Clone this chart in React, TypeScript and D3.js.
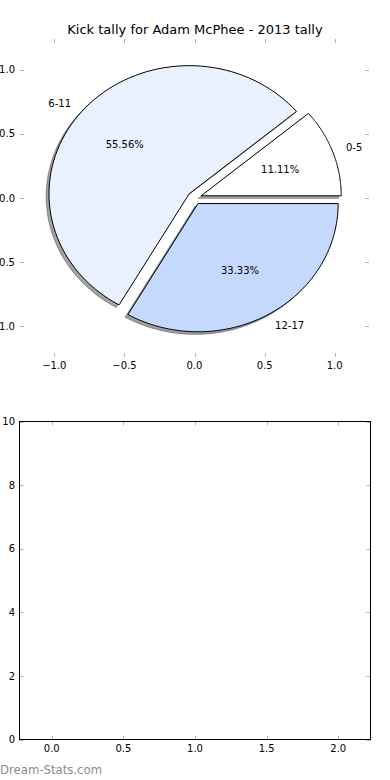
import React from 'react';
import * as d3 from 'd3';

// kick tally, 2013
const categories = ['0-5', '6-11', '12-17'];
const kicks = [1, 5, 3];
const sliceColors = ['#ffffff', '#e9f0fe', '#c5d8fe'];
const pieTicks = [-1.0, -0.5, 0.0, 0.5, 1.0];
const emptyXTicks = [0.0, 0.5, 1.0, 1.5, 2.0];
const emptyYTicks = [0, 2, 4, 6, 8, 10];

const W = 390;
const H = 780;
const explode = 0.05;
const font = 'DejaVu Sans, sans-serif';
const tickColor = '#b4b4b4';
const fmt1 = (v: number) => d3.format('.1f')(v).replace('-', '\u2212');
const pct = d3.format('.2%');

// top (pie) axes
const px = d3.scaleLinear().domain([-1.245, 1.245]).range([20, 369]);
const py = d3.scaleLinear().domain([-1.24, 1.24]).range([357, 39]);

// bottom (empty) axes
const bx = d3.scaleLinear().domain([-0.225, 2.225]).range([19.5, 370.5]);
const by = d3.scaleLinear().domain([0, 10]).range([739.5, 421.5]);

const line = d3.line<[number, number]>()
  .x(d => px(d[0]))
  .y(d => py(d[1]));

const wedge = (a0: number, a1: number, cx: number, cy: number) => {
  const n = 80;
  const pts: [number, number][] = [[cx, cy]];
  d3.range(n + 1).forEach(i => {
    const a = a0 + (a1 - a0) * i / n;
    pts.push([cx + Math.cos(a), cy + Math.sin(a)]);
  });
  return line(pts) + 'Z';
};

const shade = (c: string) => {
  const rgb = d3.rgb(c);
  return `rgba(${rgb.r * 0.3},${rgb.g * 0.3},${rgb.b * 0.3},0.5)`;
};

const App = () => {
  const total = d3.sum(kicks);
  const arcs = d3.pie<number>().sort(null).startAngle(0).endAngle(2 * Math.PI)(kicks);

  const slices = arcs.map((a, i) => {
    const mid = (a.startAngle + a.endAngle) / 2;
    const cx = explode * Math.cos(mid);
    const cy = explode * Math.sin(mid);
    return {
      i,
      a0: a.startAngle,
      a1: a.endAngle,
      cx,
      cy,
      lx: cx + 1.1 * Math.cos(mid),
      ly: cy + 1.1 * Math.sin(mid),
      tx: cx + 0.6 * Math.cos(mid),
      ty: cy + 0.6 * Math.sin(mid),
      value: kicks[i] / total,
    };
  });

  return (
    <svg width={W} height={H} style={{ position: 'absolute', left: 0, top: 0, background: '#fff' }}
      fontFamily={font}>
      <rect width={W} height={H} fill="#fff" />
      <text x={195} y={34} fontSize={13} textAnchor="middle">
        Kick tally for Adam McPhee - 2013 tally
      </text>

      {/* pie ticks */}
      <g stroke={tickColor}>
        {pieTicks.map(t => (
          <g key={'px' + t}>
            <line x1={Math.round(px(t)) + 0.5} x2={Math.round(px(t)) + 0.5} y1={39} y2={43} />
            <line x1={Math.round(px(t)) + 0.5} x2={Math.round(px(t)) + 0.5} y1={357} y2={353} />
            <line y1={Math.round(py(t)) + 0.5} y2={Math.round(py(t)) + 0.5} x1={20} x2={24} />
            <line y1={Math.round(py(t)) + 0.5} y2={Math.round(py(t)) + 0.5} x1={369} x2={365} />
          </g>
        ))}
      </g>
      <g fontSize={10}>
        {pieTicks.map(t => (
          <text key={'pxl' + t} x={px(t)} y={369} textAnchor="middle">{fmt1(t)}</text>
        ))}
        {pieTicks.map(t => (
          <text key={'pyl' + t} x={15} y={py(t) + 3.6} textAnchor="end">{fmt1(t)}</text>
        ))}
      </g>

      {/* shadows */}
      {slices.map(s => (
        <path key={'sh' + s.i} d={wedge(s.a0, s.a1, s.cx - 0.02, s.cy - 0.02)}
          fill={shade(sliceColors[s.i])} stroke={shade(sliceColors[s.i])} strokeWidth={1} />
      ))}
      {/* wedges */}
      {slices.map(s => (
        <path key={'w' + s.i} d={wedge(s.a0, s.a1, s.cx, s.cy)}
          fill={sliceColors[s.i]} stroke="#000" strokeWidth={1} strokeLinejoin="miter" />
      ))}
      <g fontSize={10}>
        {slices.map(s => (
          <text key={'l' + s.i} x={px(s.lx)} y={py(s.ly) + 3.6}
            textAnchor={s.lx > 0 ? 'start' : 'end'}>{categories[s.i]}</text>
        ))}
        {slices.map(s => (
          <text key={'p' + s.i} x={px(s.tx)} y={py(s.ty) + 3.6} textAnchor="middle">
            {pct(s.value)}
          </text>
        ))}
      </g>

      {/* empty axes */}
      <g stroke={tickColor}>
        {emptyXTicks.map(t => (
          <g key={'bx' + t}>
            <line x1={Math.round(bx(t)) + 0.5} x2={Math.round(bx(t)) + 0.5} y1={by(10)} y2={by(10) + 4} />
            <line x1={Math.round(bx(t)) + 0.5} x2={Math.round(bx(t)) + 0.5} y1={by(0)} y2={by(0) - 4} />
          </g>
        ))}
        {emptyYTicks.map(t => (
          <g key={'by' + t}>
            <line y1={Math.round(by(t)) + 0.5} y2={Math.round(by(t)) + 0.5} x1={bx(-0.225)} x2={bx(-0.225) + 4} />
            <line y1={Math.round(by(t)) + 0.5} y2={Math.round(by(t)) + 0.5} x1={bx(2.225)} x2={bx(2.225) - 4} />
          </g>
        ))}
      </g>
      <rect x={bx(-0.225)} y={by(10)} width={bx(2.225) - bx(-0.225)} height={by(0) - by(10)}
        fill="none" stroke="#000" strokeWidth={1} />
      <g fontSize={10}>
        {emptyXTicks.map(t => (
          <text key={'bxl' + t} x={bx(t)} y={752} textAnchor="middle">{fmt1(t)}</text>
        ))}
        {emptyYTicks.map(t => (
          <text key={'byl' + t} x={15} y={by(t) + 3.6} textAnchor="end">{t}</text>
        ))}
      </g>

      <text x={0} y={774} fontSize={11.7} fill="#8c8c8c">Dream-Stats.com</text>
    </svg>
  );
};

export default App;
